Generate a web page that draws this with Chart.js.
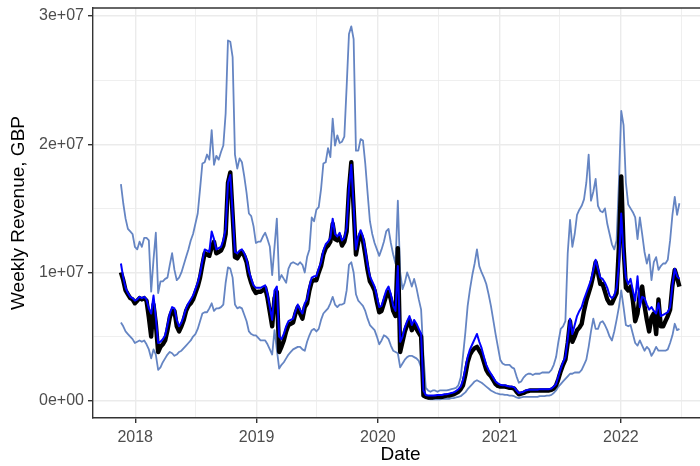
<!DOCTYPE html>
<html>
<head>
<meta charset="utf-8">
<script src="https://cdn.jsdelivr.net/npm/chart.js@4.4.1/dist/chart.umd.min.js"></script>
<style>
  html, body { margin: 0; padding: 0; background: #ffffff; overflow: hidden; }
  #wrap { width: 700px; height: 466px; overflow: hidden; }
  canvas { display: block; }
</style>
</head>
<body>
<!-- the plotting panel runs a few pixels past the right edge of the frame -->
<div id="wrap"><canvas id="c" width="708" height="466"></canvas></div>
<script>
// Weekly revenue series, GBP millions, one value per week from firstWeek onward
const firstWeek = '2017-11-19';

const actual = [
  10.0, 9.4, 8.6, 8.3, 8.0, 7.9, 7.6, 7.8, 8.0, 7.9,
  8.0, 7.8, 6.5, 5.0, 7.5, 6.0, 3.8, 4.2, 4.4, 4.7,
  5.5, 6.5, 7.0, 7.0, 5.8, 5.4, 5.8, 6.3, 7.0, 7.4,
  7.6, 7.9, 8.4, 8.9, 9.6, 10.6, 11.5, 11.4, 11.3, 12.0,
  12.4, 11.5, 11.6, 11.7, 12.1, 13.0, 17.0, 17.8, 14.5, 11.2,
  11.1, 11.4, 11.6, 11.3, 10.8, 9.8, 9.2, 8.7, 8.4, 8.5,
  8.5, 8.6, 8.8, 8.0, 6.9, 5.8, 8.0, 8.5, 3.8, 4.2,
  4.7, 5.4, 5.9, 6.0, 6.1, 6.8, 7.3, 6.8, 6.4, 7.3,
  7.6, 8.6, 9.3, 9.4, 9.4, 10.0, 10.5, 11.4, 11.9, 12.1,
  12.4, 13.8, 12.6, 12.5, 12.8, 12.1, 12.4, 13.2, 16.5, 18.6,
  15.0, 11.4, 12.4, 13.0, 12.5, 11.4, 10.2, 9.3, 9.0, 8.6,
  7.7, 6.9, 7.0, 7.6, 8.2, 8.5, 7.9, 7.0, 6.6, 11.9,
  3.8, 4.6, 5.4, 5.9, 6.3, 5.5, 6.0, 5.6, 5.3, 5.0,
  0.4, 0.3, 0.25, 0.25, 0.25, 0.3, 0.3, 0.3, 0.3, 0.35,
  0.4, 0.4, 0.45, 0.5, 0.6, 0.7, 0.9, 1.2, 2.0, 3.0,
  3.6, 3.9, 4.1, 4.2, 3.9, 3.6, 3.0, 2.4, 2.1, 1.9,
  1.6, 1.3, 1.15, 1.1, 1.1, 1.1, 1.05, 1.0, 1.0, 0.95,
  0.7, 0.5, 0.55, 0.6, 0.7, 0.75, 0.8, 0.8, 0.8, 0.8,
  0.8, 0.8, 0.8, 0.8, 0.8, 0.85, 0.95, 1.2, 1.7, 2.3,
  2.8, 3.2, 4.5, 6.2, 4.6, 5.0, 5.5, 5.7, 6.0, 7.0,
  7.8, 8.4, 9.0, 9.8, 10.8, 10.0, 9.1, 9.1, 8.5, 7.9,
  7.6, 7.6, 8.0, 8.4, 12.0, 17.5, 12.0, 8.8, 8.6, 8.9,
  7.8, 6.2, 6.8, 8.4, 8.9, 7.4, 6.3, 5.4, 6.5, 6.8,
  5.2, 7.9, 5.8, 5.8, 6.2, 6.6, 7.1, 9.0, 10.2, 9.6,
  8.9
];

const predicted = [
  10.7, 9.6, 8.8, 8.4, 8.1, 8.0, 7.8, 7.9, 8.1, 8.0,
  8.1, 7.9, 7.2, 6.8, 8.2, 6.5, 4.5, 4.6, 4.8, 5.1,
  5.9, 6.8, 7.3, 7.2, 6.3, 5.8, 6.1, 6.6, 7.2, 7.6,
  7.9, 8.2, 8.7, 9.2, 9.9, 10.9, 11.8, 11.7, 11.6, 13.2,
  12.6, 11.8, 11.9, 12.0, 12.5, 13.4, 17.0, 17.6, 14.6, 11.6,
  11.5, 11.7, 11.8, 11.5, 11.0, 10.1, 9.5, 9.0, 8.8, 8.8,
  8.8, 8.9, 9.0, 8.3, 7.3, 6.3, 8.6, 8.9, 5.0, 4.8,
  5.2, 5.8, 6.2, 6.3, 6.4, 7.0, 7.5, 7.1, 6.8, 7.6,
  7.9, 8.9, 9.6, 9.7, 9.7, 10.3, 10.8, 11.7, 12.2, 12.4,
  12.7, 14.2, 13.0, 12.8, 13.1, 12.5, 12.7, 13.5, 16.6, 18.4,
  15.2, 11.8, 12.8, 13.3, 12.8, 11.8, 10.6, 9.7, 9.3, 8.9,
  8.1, 7.3, 7.4, 8.0, 8.6, 8.9, 8.3, 7.4, 7.0, 10.5,
  4.6, 5.0, 5.7, 6.2, 6.6, 5.9, 6.3, 6.0, 5.6, 5.2,
  0.8, 0.45, 0.4, 0.4, 0.4, 0.4, 0.45, 0.45, 0.45, 0.5,
  0.5, 0.55, 0.6, 0.65, 0.75, 0.9, 1.1, 1.6, 2.5, 3.4,
  4.0, 4.4, 4.8, 5.2, 4.6, 4.1, 3.4, 2.8, 2.4, 2.1,
  1.8, 1.5, 1.35, 1.25, 1.2, 1.2, 1.15, 1.1, 1.1, 1.05,
  0.8, 0.6, 0.65, 0.7, 0.8, 0.85, 0.85, 0.85, 0.85, 0.85,
  0.9, 0.9, 0.9, 0.9, 0.9, 0.95, 1.1, 1.3, 1.9, 2.5,
  3.0, 3.4, 4.8, 6.4, 5.2, 5.9, 6.6, 7.0, 7.3, 7.9,
  8.4, 8.9, 9.4, 10.2, 11.0, 10.3, 9.6, 9.5, 9.2, 8.8,
  8.2, 8.0, 8.2, 8.8, 10.5, 14.6, 11.5, 9.6, 9.1, 9.5,
  8.6, 7.8, 9.7, 7.3, 8.1, 8.0, 7.5, 7.1, 7.3, 7.0,
  6.8, 7.6, 6.6, 6.7, 6.8, 6.9, 7.3, 9.0, 10.3, 9.7,
  9.5
];

const upperBound = [
  16.9, 15.4, 14.2, 13.4, 13.2, 13.0, 12.0, 11.8, 12.4, 12.0,
  12.7, 12.7, 12.5, 8.5, 11.0, 13.1, 8.4, 9.3, 9.3, 9.5,
  9.6, 10.6, 11.5, 10.2, 9.4, 9.6, 10.0, 10.6, 11.2, 11.8,
  12.5, 13.0, 13.8, 14.6, 16.5, 18.5, 18.6, 19.2, 18.8, 21.1,
  18.4, 19.1, 18.8, 19.4, 19.9, 22.4, 28.1, 28.0, 26.8, 19.2,
  18.1, 18.9, 18.6, 17.5, 16.2, 14.6, 14.4, 13.6, 12.3, 12.4,
  12.4, 12.8, 13.1, 12.6, 12.0, 9.8, 12.0, 14.2, 9.4, 9.8,
  9.5, 9.2, 10.3, 10.7, 10.8, 10.7, 10.6, 10.8, 10.6, 10.0,
  11.2, 11.8, 14.3, 14.0, 14.9, 15.1, 16.5, 18.5, 18.6, 19.7,
  19.0, 22.0, 19.9, 20.7, 20.1, 20.2, 20.6, 24.5, 28.6, 29.2,
  28.2, 19.5, 19.5, 20.4, 20.3, 18.5, 16.2, 14.0, 13.0, 12.3,
  11.8, 11.3, 11.8, 12.4, 13.2, 13.4, 12.3, 11.4, 10.7, 15.6,
  10.0, 8.7, 9.2, 10.0, 9.5, 8.9, 9.5, 8.8, 7.9, 7.1,
  3.5, 1.0, 0.8, 0.7, 0.8, 0.8, 0.7, 0.8, 0.8, 0.8,
  0.8, 0.85, 0.9, 0.95, 1.0, 1.2, 1.8, 3.5, 5.3, 7.4,
  8.7, 9.8, 10.7, 11.8, 10.5, 10.0, 9.6, 9.1, 8.3, 7.4,
  6.3, 5.2, 4.2, 3.2, 2.9, 2.8, 2.8, 2.8, 2.6, 2.5,
  1.9, 1.4, 1.5, 1.8, 2.0, 2.1, 2.1, 2.0, 2.1, 2.1,
  2.1, 2.2, 2.2, 2.2, 2.2, 2.4, 2.8, 3.4, 4.6, 5.6,
  5.8, 6.2, 11.5, 14.1, 12.0, 13.0, 14.5, 14.9, 15.2, 15.7,
  17.0, 19.2, 15.6, 16.3, 17.3, 15.2, 14.8, 14.7, 15.0, 13.8,
  13.0, 12.2, 11.8, 12.5, 17.0, 22.6, 21.5, 17.0, 15.3, 15.0,
  14.7, 14.3, 12.6, 14.3, 13.0, 11.6, 10.7, 11.4, 9.4, 10.8,
  11.2, 10.2, 10.5, 10.7, 10.7, 11.0, 12.5, 14.5, 15.9, 14.5,
  15.4
];

const lowerBound = [
  6.1, 5.8, 5.4, 5.2, 5.0, 4.8, 4.5, 4.6, 4.7, 4.6,
  4.7, 4.4, 4.0, 3.3, 4.0, 3.6, 2.4, 2.6, 3.0, 3.3,
  3.6, 3.8, 3.7, 3.5, 3.6, 3.8, 3.9, 4.1, 4.3, 4.5,
  4.7, 5.0, 5.2, 5.6, 6.2, 6.8, 6.9, 6.9, 7.2, 7.6,
  7.0, 7.2, 7.2, 7.3, 7.5, 9.2, 10.4, 10.3, 9.6, 7.5,
  7.2, 7.3, 7.2, 6.7, 6.2, 5.4, 5.2, 5.1, 5.1, 4.9,
  4.7, 4.7, 4.7, 4.4, 4.0, 3.6, 5.5, 4.0, 2.5, 2.8,
  3.0, 3.3, 3.6, 3.8, 4.0, 4.1, 4.2, 4.2, 4.0, 3.9,
  4.6, 5.1, 5.5, 5.6, 5.4, 5.6, 6.3, 6.8, 7.0, 7.2,
  7.6, 8.1, 7.5, 7.3, 7.5, 7.5, 7.6, 8.6, 10.6, 10.8,
  10.0, 8.3, 7.8, 7.6, 7.4, 7.0, 6.4, 5.9, 5.7, 5.5,
  5.0, 4.4, 4.7, 5.1, 5.0, 4.8, 4.3, 3.9, 3.8, 3.7,
  2.6, 2.9, 3.2, 3.4, 3.5, 3.5, 3.4, 3.3, 3.1, 2.6,
  1.5, 0.3, 0.15, 0.1, 0.1, 0.1, 0.1, 0.1, 0.15, 0.15,
  0.15, 0.15, 0.2, 0.2, 0.25, 0.3, 0.35, 0.5, 0.65, 0.9,
  1.1, 1.3, 1.5, 1.6, 1.5, 1.4, 1.25, 1.1, 0.95, 0.8,
  0.7, 0.6, 0.55, 0.5, 0.5, 0.45, 0.45, 0.4, 0.4, 0.35,
  0.25, 0.2, 0.25, 0.3, 0.3, 0.3, 0.3, 0.3, 0.3, 0.3,
  0.35, 0.35, 0.35, 0.4, 0.4, 0.45, 0.6, 0.8, 1.1, 1.3,
  1.5, 1.7, 1.9, 2.1, 2.1, 2.2, 2.2, 2.2, 2.4, 2.8,
  3.2, 4.2, 5.4, 6.4, 5.6, 5.6, 6.1, 6.2, 5.9, 5.5,
  5.0, 4.7, 5.4, 6.3, 7.3, 8.6, 7.3, 5.9, 5.8, 5.9,
  5.2, 4.5, 4.3, 4.7, 4.3, 3.9, 4.2, 4.0, 3.5, 3.8,
  4.2, 3.9, 3.9, 3.9, 3.9, 4.0, 4.5, 5.1, 6.0, 5.5,
  5.6
];

// Axis ticks
const yearLabels = ['2018', '2019', '2020', '2021', '2022'];
const revenueTicks = [0, 1e7, 2e7, 3e7];
const revenueLabels = ['0e+00', '1e+07', '2e+07', '3e+07'];

const DAY = 86400000;
const MILLION = 1e6;
const weekTimes = actual.map((_, i) => Date.parse(firstWeek + 'T00:00:00Z') + i * 7 * DAY);
const toPoints = arr => arr.map((v, i) => ({ x: weekTimes[i], y: v * MILLION }));

// Year gridlines (major) and mid-year gridlines (minor)
const yearStarts = yearLabels.map(y => Date.UTC(+y, 0, 1));
const midYears = yearLabels.map(y => Date.UTC(+y, 6, 1));
const xGrid = [...yearStarts, ...midYears].sort((a, b) => a - b);
const yGrid = [0, 5e6, 1e7, 1.5e7, 2e7, 2.5e7, 3e7];

const FONT = '"Liberation Sans", Arial, Helvetica, sans-serif';
const GRID = '#EBEBEB';
const DARK = '#333333';

// dark rule along the top of the panel
const panelTop = {
  id: 'panelTop',
  afterDraw(chart) {
    const { ctx, chartArea: a } = chart;
    ctx.save();
    ctx.strokeStyle = DARK;
    ctx.lineWidth = 1.4;
    ctx.beginPath();
    ctx.moveTo(a.left, a.top);
    ctx.lineTo(a.right, a.top);
    ctx.stroke();
    ctx.restore();
  }
};

const noEdgePadding = s => { s.paddingTop = 0; s.paddingBottom = 0; s.paddingLeft = 0; s.paddingRight = 0; };

const boundStyle = { borderColor: '#6585C3', borderWidth: 1.8 };

new Chart(document.getElementById('c'), {
  type: 'line',
  data: {
    datasets: [
      { label: 'Predicted', data: toPoints(predicted), borderColor: '#0000FF', borderWidth: 2, order: 0 },
      { label: 'Actual', data: toPoints(actual), borderColor: '#000000', borderWidth: 4.4, order: 1 },
      { label: 'Upper', data: toPoints(upperBound), ...boundStyle, order: 2 },
      { label: 'Lower', data: toPoints(lowerBound), ...boundStyle, order: 2 }
    ]
  },
  options: {
    responsive: false,
    animation: false,
    parsing: false,
    normalized: true,
    layout: { padding: { top: 8, right: 0, bottom: 0, left: 0 } },
    elements: { point: { radius: 0 }, line: { tension: 0, borderJoinStyle: 'round', borderCapStyle: 'butt' } },
    plugins: { legend: { display: false }, tooltip: { enabled: false } },
    scales: {
      x: {
        type: 'linear',
        min: Date.UTC(2017, 7, 27),
        max: Date.UTC(2022, 8, 20),
        afterFit(s) { s.height = 48; noEdgePadding(s); },
        afterBuildTicks(s) { s.ticks = xGrid.map(v => ({ value: v })); },
        ticks: {
          autoSkip: false, maxRotation: 0, padding: 5,
          color: '#4D4D4D', font: { family: FONT, size: 16 },
          callback(v) { const k = yearStarts.indexOf(v); return k >= 0 ? yearLabels[k] : ''; }
        },
        grid: {
          color: GRID,
          lineWidth: c => (c.tick && yearStarts.includes(c.tick.value)) ? 1.4 : 0.8,
          tickColor: c => (c.tick && yearStarts.includes(c.tick.value)) ? DARK : 'rgba(0,0,0,0)',
          tickLength: 5
        },
        border: { color: DARK, width: 1.4 },
        title: { display: true, text: 'Date', color: '#000000', font: { family: FONT, size: 19, lineHeight: 1 }, padding: { top: 0, bottom: 2 } }
      },
      y: {
        type: 'linear',
        min: -1.35e6,
        max: 3.063e7,
        afterFit(s) { s.width = 93; noEdgePadding(s); },
        afterBuildTicks(s) { s.ticks = yGrid.map(v => ({ value: v })); },
        ticks: {
          autoSkip: false, padding: 4,
          color: '#4D4D4D', font: { family: FONT, size: 16 },
          callback(v) { const k = revenueTicks.indexOf(v); return k >= 0 ? revenueLabels[k] : ''; }
        },
        grid: {
          color: GRID,
          lineWidth: c => (c.tick && revenueTicks.includes(c.tick.value)) ? 1.4 : 0.8,
          tickColor: c => (c.tick && revenueTicks.includes(c.tick.value)) ? DARK : 'rgba(0,0,0,0)',
          tickLength: 5
        },
        border: { color: DARK, width: 1.4 },
        title: { display: true, text: 'Weekly Revenue, GBP', color: '#000000', font: { family: FONT, size: 19, lineHeight: 1 }, padding: { top: 9, bottom: 0 } }
      }
    }
  },
  plugins: [panelTop]
});
</script>
</body>
</html>
